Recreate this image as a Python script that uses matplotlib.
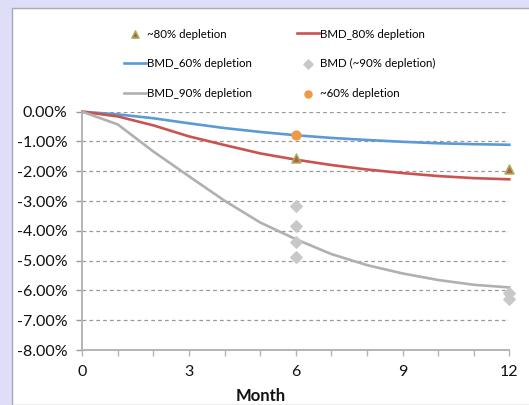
import matplotlib
matplotlib.use("Agg")
import matplotlib.pyplot as plt
from matplotlib.patches import Rectangle
from matplotlib.ticker import FuncFormatter, MultipleLocator

# Modelled BMD change (%) by month
months = list(range(13))
bmd_60 = [0.00, -0.09, -0.22, -0.39, -0.55, -0.68, -0.79, -0.88, -0.95, -1.01, -1.06, -1.09, -1.11]
bmd_80 = [0.00, -0.16, -0.46, -0.83, -1.12, -1.40, -1.61, -1.79, -1.94, -2.06, -2.16, -2.23, -2.27]
bmd_90 = [0.00, -0.43, -1.34, -2.17, -2.99, -3.72, -4.28, -4.78, -5.15, -5.43, -5.65, -5.81, -5.90]

# Observed points
obs80_x = [6, 12]
obs80_y = [-1.55, -1.91]
obs90_x = [6, 6, 6, 6, 12, 12]
obs90_y = [-3.16, -3.85, -4.38, -4.87, -6.08, -6.30]
obs60_x = [6]
obs60_y = [-0.79]

x_ticks = [0, 3, 6, 9, 12]
y_ticks = [0, -1, -2, -3, -4, -5, -6, -7, -8]

plt.rcParams['font.family'] = ['Lato', 'DejaVu Sans']

W, H = 529, 405
fig = plt.figure(figsize=(W / 100, H / 100), dpi=100)
fig.patch.set_facecolor('#dedff7')
fig.patches.append(Rectangle((12 / W, 0), 1.0, 1 - 8 / H, transform=fig.transFigure,
                             facecolor='white', edgecolor='#a8a8b8', linewidth=1.0, zorder=-10))

ax = fig.add_axes([82.3 / W, 1 - 350 / H, 427 / W, (350 - 111.7) / H])
ax.set_facecolor('none')

c_blue = '#5b9bd5'
c_red = '#c9534f'
c_gray = '#b0b0b0'
c_orange = '#ee9a45'
c_diam = '#c8c8c8'

ax.plot(months, bmd_60, color=c_blue, lw=1.9, label='BMD_60% depletion', clip_on=False, zorder=3)
ax.plot(months, bmd_80, color=c_red, lw=1.9, label='BMD_80% depletion', clip_on=False, zorder=3)
ax.plot(months, bmd_90, color=c_gray, lw=1.9, label='BMD_90% depletion', clip_on=False, zorder=3)
ax.scatter(obs80_x, obs80_y, marker='^', s=42, facecolor=c_red, edgecolor='#9bbb59',
           linewidth=1.1, label='~80% depletion', clip_on=False, zorder=4)
ax.scatter(obs90_x, obs90_y, marker='D', s=34, facecolor=c_diam, edgecolor=c_diam,
           label='BMD (~90% depletion)', clip_on=False, zorder=4)
ax.scatter(obs60_x, obs60_y, marker='o', s=40, facecolor=c_orange, edgecolor=c_orange,
           label='~60% depletion', clip_on=False, zorder=5)

ax.set_xlim(0, 12)
ax.set_ylim(-8, 0)
ax.set_xticks(x_ticks)
ax.xaxis.set_minor_locator(MultipleLocator(1))
ax.set_yticks(y_ticks)
ax.yaxis.set_major_formatter(FuncFormatter(lambda v, p: f"{v:.2f}%"))
ax.grid(axis='y', color='#999999', linestyle=(0, (3, 2.5)), linewidth=0.9)
ax.set_axisbelow(True)

for s in ['top', 'right']:
    ax.spines[s].set_visible(False)
for s in ['left', 'bottom']:
    ax.spines[s].set_color('#b4b4b4')
    ax.spines[s].set_linewidth(1.4)

ax.tick_params(axis='y', which='major', length=4, width=1, color='#999999', pad=6.5,
               labelsize=11.5, labelcolor='#111111')
ax.tick_params(axis='x', which='both', length=4, width=1, color='#b4b4b4', pad=7,
               labelsize=11.5, labelcolor='#111111')

fig.text(261 / W, 1 - 396 / H, 'Month', ha='center', va='center',
         fontsize=12, fontweight='bold', color='#111111')

h, l = ax.get_legend_handles_labels()
order = ['~80% depletion', 'BMD_60% depletion', 'BMD_90% depletion',
         'BMD_80% depletion', 'BMD (~90% depletion)', '~60% depletion']
hmap = dict(zip(l, h))
leg = fig.legend([hmap[k] for k in order], order, ncol=2, frameon=False,
                 fontsize=8.3, loc='upper left', bbox_to_anchor=(124 / W, 1 - 28.5 / H),
                 handlelength=1.9, handletextpad=0.1, columnspacing=3.9,
                 labelspacing=1.62, borderpad=0, borderaxespad=0, scatterpoints=1,
                 markerscale=0.8)

fig.savefig('out.png', dpi=100, facecolor=fig.get_facecolor())
